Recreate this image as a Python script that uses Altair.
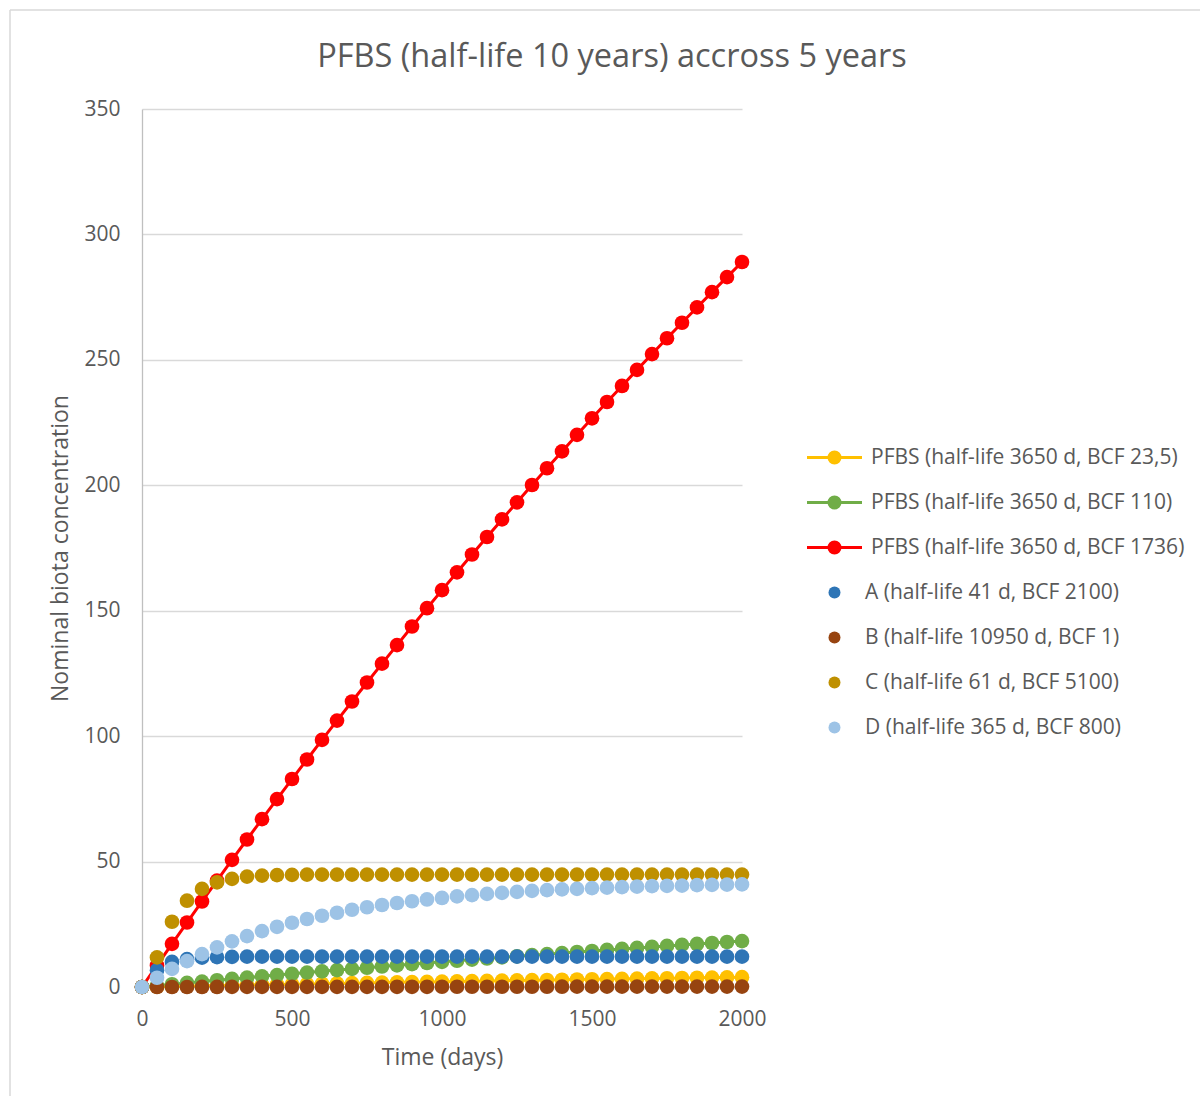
import altair as alt
import pandas as pd

# Sampling days (every 50 days over ~5.5 years)
days = [0, 50, 100, 150, 200, 250, 300, 350, 400, 450, 500, 550, 600, 650, 700,
        750, 800, 850, 900, 950, 1000, 1050, 1100, 1150, 1200, 1250, 1300, 1350,
        1400, 1450, 1500, 1550, 1600, 1650, 1700, 1750, 1800, 1850, 1900, 1950, 2000]

# PFBS, half-life 3650 d, three BCF values
pfbs_bcf_23_5 = [0.0, 0.12, 0.23, 0.35, 0.46, 0.57, 0.69, 0.80, 0.91, 1.01, 1.12,
                 1.23, 1.33, 1.44, 1.54, 1.64, 1.75, 1.85, 1.95, 2.04, 2.14, 2.24,
                 2.33, 2.43, 2.52, 2.62, 2.71, 2.80, 2.89, 2.98, 3.07, 3.16, 3.24,
                 3.33, 3.42, 3.50, 3.59, 3.67, 3.75, 3.83, 3.91]
pfbs_bcf_110 = [0.0, 0.55, 1.09, 1.63, 2.16, 2.69, 3.21, 3.73, 4.24, 4.75, 5.25,
                5.75, 6.24, 6.73, 7.21, 7.69, 8.17, 8.64, 9.10, 9.57, 10.02, 10.47,
                10.92, 11.37, 11.81, 12.24, 12.68, 13.10, 13.53, 13.95, 14.36, 14.78,
                15.18, 15.59, 15.99, 16.38, 16.78, 17.16, 17.55, 17.93, 18.31]
pfbs_bcf_1736 = [0.0, 8.6, 17.2, 25.7, 34.1, 42.4, 50.7, 58.8, 66.9, 74.9, 82.9,
                 90.7, 98.5, 106.2, 113.8, 121.4, 128.9, 136.3, 143.7, 151.0, 158.2,
                 165.3, 172.4, 179.4, 186.4, 193.2, 200.1, 206.8, 213.5, 220.1, 226.7,
                 233.2, 239.6, 246.0, 252.3, 258.6, 264.8, 270.9, 277.0, 283.0, 289.0]

# Comparison substances A-D
sub_a = [0.0, 6.7, 10.0, 11.1, 11.7, 11.9, 12.0, 12.1, 12.1, 12.1, 12.1, 12.1,
         12.1, 12.1, 12.1, 12.1, 12.1, 12.1, 12.1, 12.1, 12.1, 12.1, 12.1, 12.1,
         12.1, 12.1, 12.1, 12.1, 12.1, 12.1, 12.1, 12.1, 12.1, 12.1, 12.1, 12.1,
         12.1, 12.1, 12.1, 12.1, 12.1]
sub_b = [0.0, 0.00, 0.01, 0.01, 0.02, 0.02, 0.03, 0.03, 0.04, 0.04, 0.05, 0.05,
         0.05, 0.06, 0.06, 0.07, 0.07, 0.08, 0.08, 0.08, 0.09, 0.09, 0.10, 0.10,
         0.11, 0.11, 0.11, 0.12, 0.12, 0.13, 0.13, 0.13, 0.14, 0.14, 0.15, 0.15,
         0.15, 0.16, 0.16, 0.17, 0.17]
sub_c = [0.0, 11.8, 26.0, 34.4, 39.1, 41.7, 43.1, 44.0, 44.4, 44.6, 44.7, 44.8,
         44.8, 44.8, 44.8, 44.8, 44.8, 44.8, 44.8, 44.8, 44.8, 44.8, 44.8, 44.8,
         44.8, 44.8, 44.8, 44.8, 44.8, 44.8, 44.8, 44.8, 44.8, 44.8, 44.8, 44.8,
         44.8, 44.8, 44.8, 44.8, 44.8]
sub_d = [0.0, 3.7, 7.2, 10.3, 13.1, 15.8, 18.2, 20.3, 22.3, 24.0, 25.6, 27.1,
         28.4, 29.6, 30.8, 31.8, 32.7, 33.5, 34.2, 34.9, 35.5, 36.1, 36.6, 37.1,
         37.5, 37.9, 38.3, 38.6, 38.9, 39.1, 39.4, 39.6, 39.8, 40.0, 40.2, 40.3,
         40.4, 40.6, 40.7, 40.8, 40.9]

line_names = ["PFBS (half-life 3650 d, BCF 23,5)",
              "PFBS (half-life 3650 d, BCF 110)",
              "PFBS (half-life 3650 d, BCF 1736)"]
line_colors = ["#FFC000", "#70AD47", "#FF0000"]
line_values = [pfbs_bcf_23_5, pfbs_bcf_110, pfbs_bcf_1736]

point_names = ["A (half-life 41 d, BCF 2100)",
               "B (half-life 10950 d, BCF 1)",
               "C (half-life 61 d, BCF 5100)",
               "D (half-life 365 d, BCF 800)"]
point_colors = ["#2E75B6", "#974410", "#BF9000", "#9DC3E6"]
point_values = [sub_a, sub_b, sub_c, sub_d]

line_rows = []
for name, vals in zip(line_names, line_values):
    for d, v in zip(days, vals):
        line_rows.append({"day": d, "value": v, "series": name})
lines_df = pd.DataFrame(line_rows)

point_rows = []
for name, vals in zip(point_names, point_values):
    for d, v in zip(days, vals):
        point_rows.append({"day": d, "value": v, "series": name})
points_df = pd.DataFrame(point_rows)

FONT = "Open Sans"
TEXT = "#595959"

x_enc = alt.X("day:Q",
              scale=alt.Scale(domain=[0, 2000], nice=False),
              axis=alt.Axis(values=[0, 500, 1000, 1500, 2000], format="d",
                            labelFlush=False, title="Time (days)",
                            grid=False, ticks=False, domainColor="#BFBFBF",
                            domainWidth=1.3, labelFont=FONT, labelFontSize=21,
                            labelColor=TEXT, labelPadding=21, titleFont=FONT,
                            titleFontSize=23, titleFontWeight="normal",
                            titleColor=TEXT, titleX=300, titleY=70,
                            titleBaseline="middle"))
y_enc = alt.Y("value:Q",
              scale=alt.Scale(domain=[0, 350], nice=False),
              axis=alt.Axis(values=[0, 50, 100, 150, 200, 250, 300, 350],
                            title="Nominal biota concentration",
                            gridColor="#D9D9D9", gridWidth=1.3, ticks=False,
                            domainColor="#BFBFBF", domainWidth=1.3,
                            labelFont=FONT, labelFontSize=21, labelColor=TEXT,
                            labelPadding=22, titleFont=FONT, titleFontSize=23,
                            titleFontWeight="normal", titleColor=TEXT,
                            titleX=-82, titleY=439, titleAngle=-90,
                            titleAlign="center", titleBaseline="middle"))

# Legend glyph: a line with a filled disc built from concentric rings
line_glyph = ("M-3.93,0L3.93,0"
              "M0.143,0A0.143,0.143,0,1,1,-0.143,0A0.143,0.143,0,1,1,0.143,0"
              "M0.357,0A0.357,0.357,0,1,1,-0.357,0A0.357,0.357,0,1,1,0.357,0"
              "M0.571,0A0.571,0.571,0,1,1,-0.571,0A0.571,0.571,0,1,1,0.571,0"
              "M0.786,0A0.786,0.786,0,1,1,-0.786,0A0.786,0.786,0,1,1,0.786,0")

lines = alt.Chart(lines_df).mark_line(
    strokeWidth=3,
    point=alt.OverlayMarkDef(filled=True, size=215, opacity=1),
).encode(
    x=x_enc,
    y=y_enc,
    color=alt.Color("series:N",
                    scale=alt.Scale(domain=line_names, range=line_colors),
                    legend=alt.Legend(title=None, orient="none", legendX=682,
                                      legendY=338, symbolType=line_glyph,
                                      symbolSize=196, symbolStrokeWidth=3,
                                      symbolOffset=0, padding=0,
                                      labelOffset=26, rowPadding=20,
                                      labelFont=FONT, labelFontSize=21,
                                      labelColor=TEXT, labelLimit=500)),
    order=alt.Order("day:Q"),
)

points = alt.Chart(points_df).mark_point(filled=True, size=215, opacity=1, strokeWidth=0).encode(
    x=x_enc,
    y=y_enc,
    fill=alt.Fill("series:N",
                  scale=alt.Scale(domain=point_names, range=point_colors),
                  legend=alt.Legend(title=None, orient="none", legendX=682,
                                    legendY=473, symbolType="circle",
                                    symbolSize=144, symbolStrokeWidth=0,
                                    symbolOffset=0, padding=0,
                                    labelOffset=20, rowPadding=23,
                                    labelFont=FONT, labelFontSize=21,
                                    labelColor=TEXT, labelLimit=500)),
)

# Light chart-area border along the top and left edges
frame_df = pd.DataFrame({"k": [0]})
frame_left = alt.Chart(frame_df).mark_rule(color="#D9D9D9", strokeWidth=1.5).encode(
    x=alt.value(-132), y=alt.value(-99), y2=alt.value(1000))
frame_top = alt.Chart(frame_df).mark_rule(color="#D9D9D9", strokeWidth=1.5).encode(
    x=alt.value(-132), x2=alt.value(1070), y=alt.value(-99))

chart = alt.layer(frame_left, frame_top, lines, points).resolve_scale(
    color="independent", fill="independent"
).properties(
    width=600,
    height=878,
    title=alt.TitleParams("PFBS (half-life 10 years) accross 5 years",
                          font=FONT, fontSize=32.5, fontWeight="normal",
                          color=TEXT, anchor="middle", dx=170, offset=0, dy=64),
    autosize=alt.AutoSizeParams(type="none"),
    padding={"left": 142, "top": 109, "right": 458, "bottom": 109},
    background="white",
).configure_view(strokeWidth=0)

chart.save("out.html", embed_options={"renderer": "svg", "actions": False})
